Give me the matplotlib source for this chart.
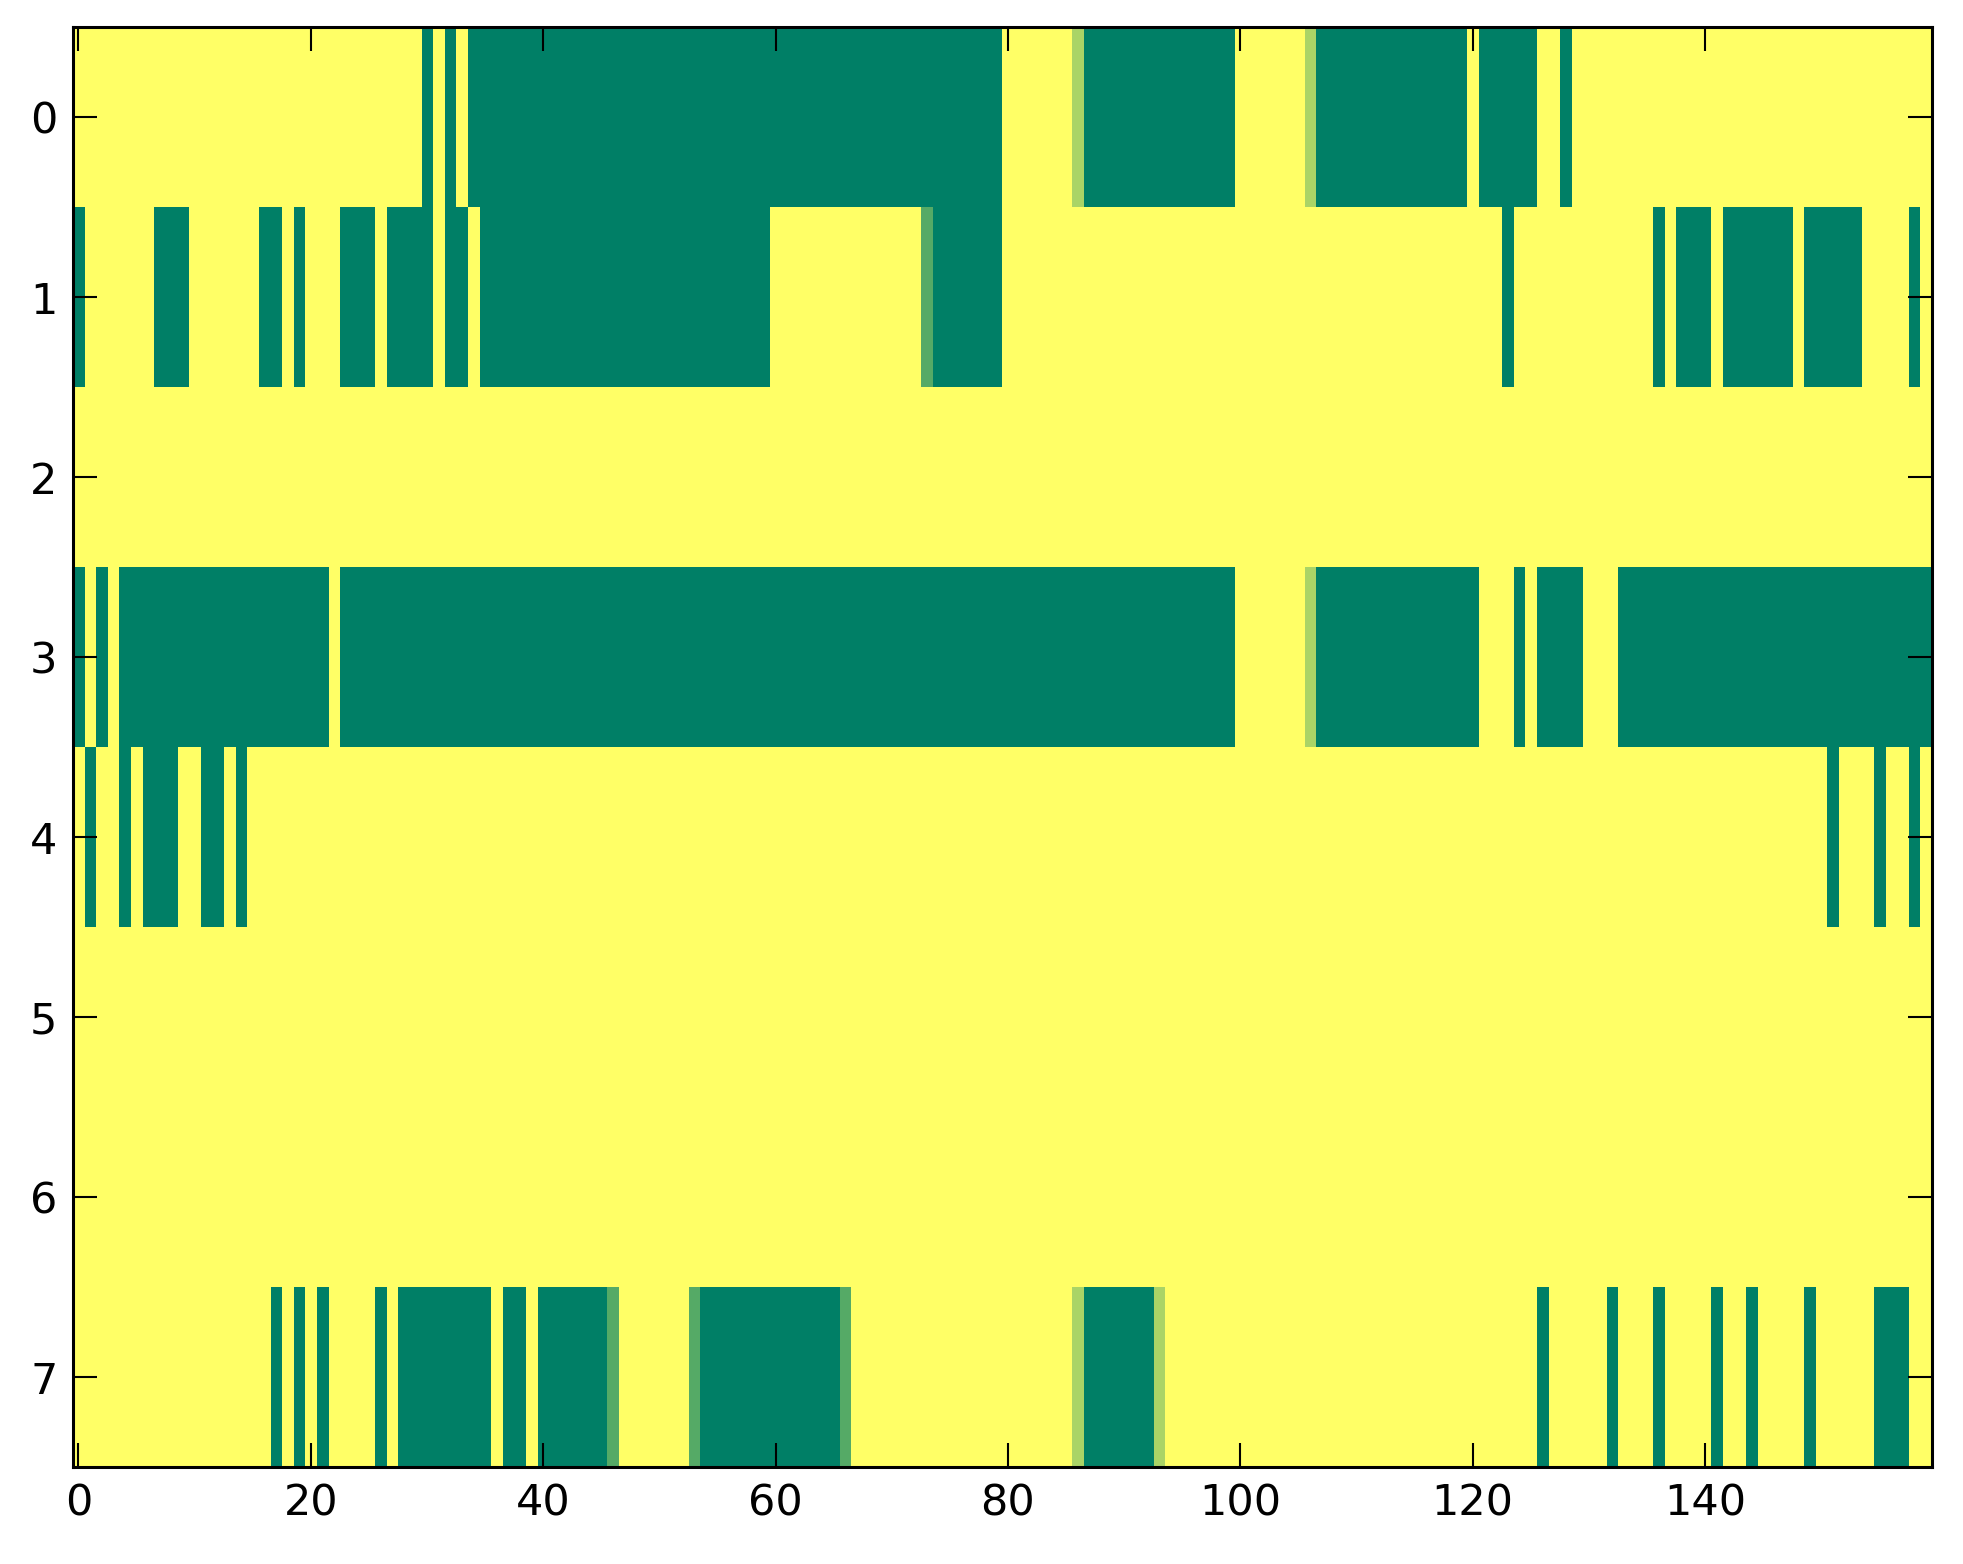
import numpy as np
import matplotlib
matplotlib.use("Agg")
import matplotlib.pyplot as plt

# Each digit d is a cell value d/3 (0 = yellow, 3 = full green); groups of 10 columns
row0 = "0000000000 0000000000 0000000000 3030333333 3333333333 3333333333 3333333333 3333333333 0000001333 3333333333 0000001333 3333333333 0333330030 0000000000 0000000000 0000000000"
row1 = "3000000333 0000003303 0003330333 3033033333 3333333333 3333333333 0000000000 0002333333 0000000000 0000000000 0000000000 0000000000 0003000000 0000003033 3033333303 3333000030"
row2 = "0000000000 0000000000 0000000000 0000000000 0000000000 0000000000 0000000000 0000000000 0000000000 0000000000 0000000000 0000000000 0000000000 0000000000 0000000000 0000000000"
row3 = "3030333333 3333333333 3303333333 3333333333 3333333333 3333333333 3333333333 3333333333 3333333333 3333333333 0000001333 3333333333 3000303333 0003333333 3333333333 3333333333"
row4 = "0300303330 0330300000 0000000000 0000000000 0000000000 0000000000 0000000000 0000000000 0000000000 0000000000 0000000000 0000000000 0000000000 0000000000 0000000000 0300030030"
row5 = "0000000000 0000000000 0000000000 0000000000 0000000000 0000000000 0000000000 0000000000 0000000000 0000000000 0000000000 0000000000 0000000000 0000000000 0000000000 0000000000"
row6 = "0000000000 0000000000 0000000000 0000000000 0000000000 0000000000 0000000000 0000000000 0000000000 0000000000 0000000000 0000000000 0000000000 0000000000 0000000000 0000000000"
row7 = "0000000000 0000000303 0300003033 3333330330 3333332000 0002333333 3333332000 0000000000 0000001333 3331000000 0000000000 0000000000 0000003000 0030003000 0300300003 0000033300"

rows = [row0, row1, row2, row3, row4, row5, row6, row7]
data = np.array([[int(ch) / 3.0 for ch in r.replace(" ", "")] for r in rows])

xticks = [0, 20, 40, 60, 80, 100, 120, 140]
yticks = [0, 1, 2, 3, 4, 5, 6, 7]

plt.rcParams['font.family'] = ['DejaVu Sans']
fig = plt.figure(figsize=(19.63, 15.64), dpi=100)
ax = fig.add_axes([0.037, 0.062, 0.947, 0.9205])
ax.imshow(data, cmap='summer_r', vmin=0, vmax=1, aspect='auto', interpolation='nearest')
ax.set_xticks(xticks)
ax.set_yticks(yticks)
ax.tick_params(direction='in', top=True, right=True, length=17, width=1.5,
               labelsize=31, pad=11)
for s in ax.spines.values():
    s.set_linewidth(2.2)
fig.savefig("out.png", dpi=100, facecolor='white')
